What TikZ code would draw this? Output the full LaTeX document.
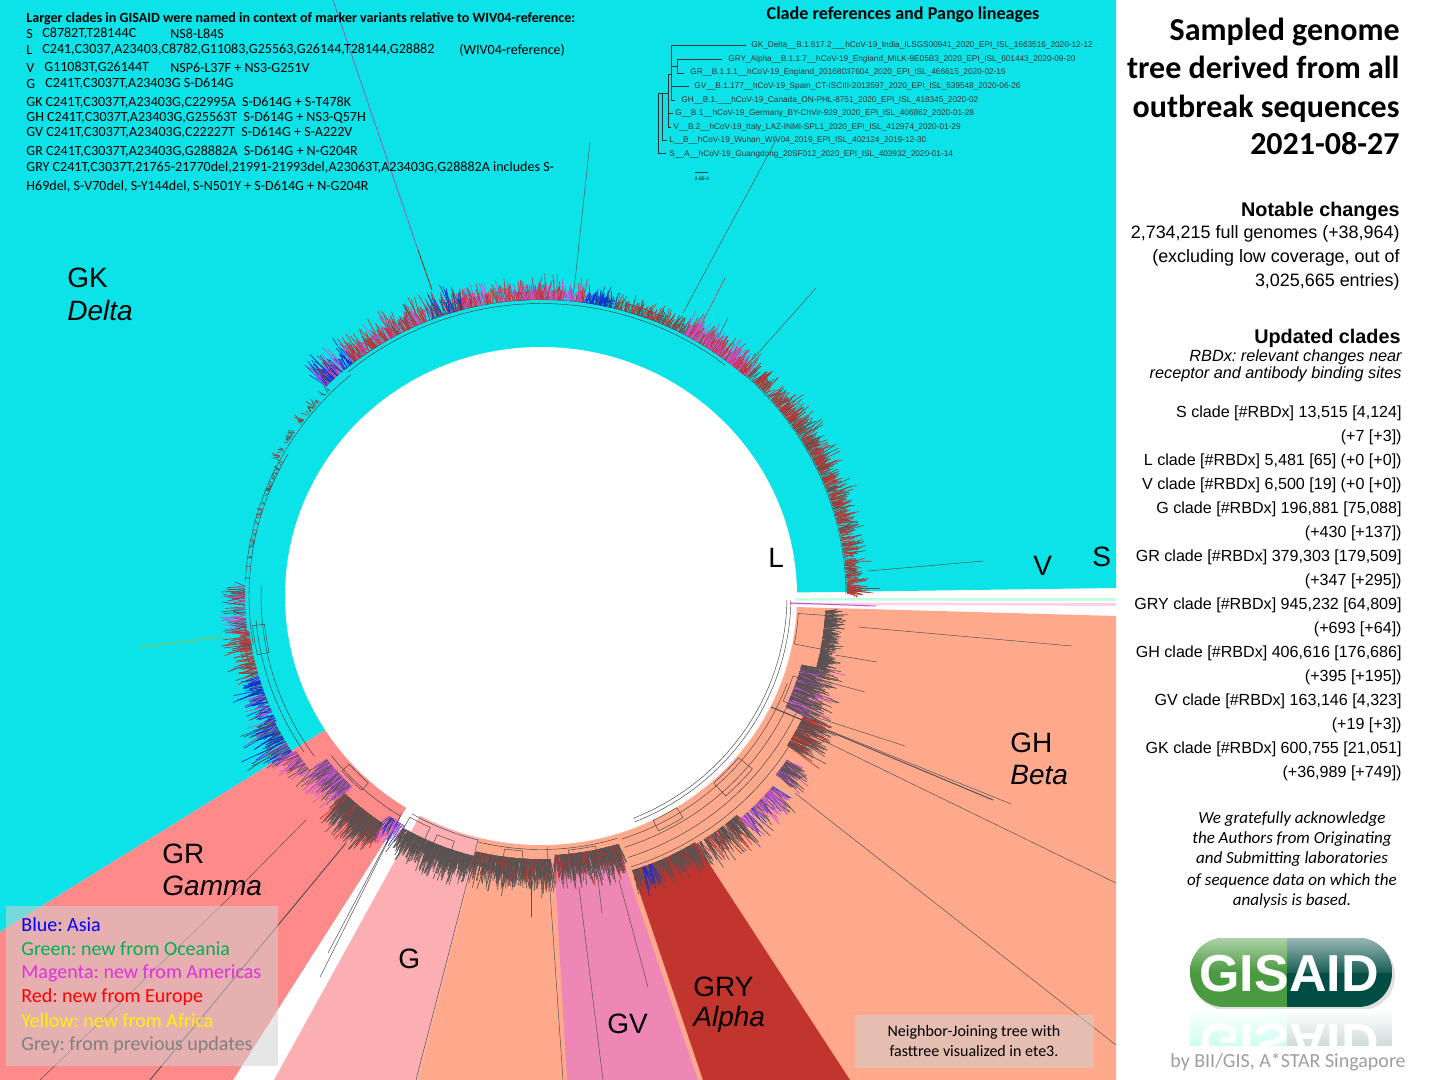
\documentclass[tikz,border=0pt]{standalone}
\usepackage{fontspec}
\setmainfont{Carlito}
\newfontfamily\arialfont{Liberation Sans}
\usetikzlibrary{positioning,calc}
\frenchspacing
\definecolor{cladecyan}{HTML}{0BE3E8}
\definecolor{cladegr}{HTML}{FF8A8A}
\definecolor{cladeg}{HTML}{FCAFB2}
\definecolor{cladegh}{HTML}{FFA98C}
\definecolor{cladegv}{HTML}{EE87B5}
\definecolor{cladegry}{HTML}{C2342E}
\definecolor{hairgrey}{HTML}{5A5252}
\definecolor{hairred}{HTML}{C8302C}
\definecolor{hairmag}{HTML}{C850D8}
\definecolor{hairblue}{HTML}{1030D0}
\definecolor{logogreen}{HTML}{4A9A3F}
\definecolor{logoteal}{HTML}{004D45}
\newcommand{\hairband}[8]{%
	\foreach \k in {1,...,#5}{
		\pgfmathsetmacro{\ang}{#1+(#2-#1)*rnd}
		\pgfmathsetmacro{\lenh}{#4*(0.3+0.7*rnd*rnd)}
		\pgfmathsetmacro{\tilt}{\ang+1.6*rnd-0.8}
		\pgfmathsetmacro{\pick}{rnd}
		\ifdim\pick pt<0.55pt\def\hc{#6}\else\ifdim\pick pt<0.85pt\def\hc{#7}\else\def\hc{#8}\fi\fi
		\draw[hair,draw=\hc] ({px(\ang,#3)},{py(\ang,#3)}) -- ({px(\tilt,#3+\lenh)},{py(\tilt,#3+\lenh)});
	}}
\newcommand{\treearc}[3]{\draw[branch] plot[domain=#1:#2,samples=36] ({px(\x,#3)},{py(\x,#3)});}
\newcommand{\treebox}[4]{\draw[branch] plot[domain=#1:#2,samples=10] ({px(\x,#3)},{py(\x,#3)}) -- plot[domain=#2:#1,samples=10] ({px(\x,#4)},{py(\x,#4)}) -- cycle;}
\begin{document}
\begin{tikzpicture}[
	x=0.5pt, y=-0.5pt,
	declare function={px(\a,\r)=541+\r*cos(\a);py(\a,\r)=596-0.975*\r*sin(\a);},
	hair/.style={line width=0.32pt},
	branch/.style={line width=0.22pt, draw=black!75},
	longbranch/.style={line width=0.25pt, draw=hairgrey},
	reftree/.style={line width=0.25pt, draw=black!80},
	glasspanel/.style={fill=black!18, fill opacity=0.54},
	notetext/.style={font=\fontsize{7.02}{8}\selectfont, anchor=west, inner sep=0pt},
	reftext/.style={font=\arialfont\fontsize{4.12}{5}\selectfont, anchor=west, inner sep=0pt, text=black!80},
	cladename/.style={font=\arialfont\fontsize{14}{16}\selectfont, anchor=west, inner sep=0pt},
	cladevar/.style={font=\arialfont\itshape\fontsize{14}{16}\selectfont, anchor=west, inner sep=0pt},
	legendtext/.style={font=\fontsize{10}{12}\selectfont, anchor=west, inner sep=0pt},
	paneltitle/.style={font=\bfseries\fontsize{16}{20}\selectfont, anchor=east, inner sep=0pt},
	panelhead/.style={font=\arialfont\bfseries\fontsize{9.9}{12}\selectfont, anchor=east, inner sep=0pt},
	panelbody/.style={font=\arialfont\fontsize{8.97}{11}\selectfont, anchor=east, inner sep=0pt},
	panelsmall/.style={font=\arialfont\itshape\fontsize{8.12}{10}\selectfont, anchor=east, inner sep=0pt},
	panelcount/.style={font=\arialfont\fontsize{8.05}{10}\selectfont, anchor=east, inner sep=0pt},
	thanks/.style={font=\itshape\fontsize{8.5}{10}\selectfont, inner sep=0pt},
	]
	\useasboundingbox (0,0) rectangle (1440,1080);
	\pgfmathsetseed{2021}
	% clade wedges
	\fill[cladecyan] (0,0) -- (1116,0) -- (1116,588) -- (541,596) -- (0,932) -- cycle;
	\fill[cladegr] (541,596) -- (0,932) -- (0,1080) -- (233,1080) -- cycle;
	\fill[cladeg] (541,596) -- (274,1080) -- (418,1080) -- cycle;
	\fill[cladegh] (541,596) -- (418,1080) -- (1116,1080) -- (1116,616) -- (760,606) -- cycle;
	\fill[cladegv] (554,857) -- (619,848) -- (698,1080) -- (567,1080) -- cycle;
	\fill[cladegry] (632,870) .. controls (655,864) and (677,855) .. (695,842) -- (850,1080) -- (703,1080) -- cycle;
	\fill[white] (541,596) ellipse [x radius=256, y radius=249];
	\fill[green!50!cyan!25!white] (795,598) -- (1116,598) -- (1116,601) -- (795,600.5) -- cycle;
	\fill[magenta!18] (790,602.5) -- (1116,603) -- (1116,606) -- (790,604.5) -- cycle;
	\draw[line width=0.5pt, draw=hairmag] (790,603) -- (876,606);
	% inner rings
	\foreach \rr in {246,250}{\treearc{-68}{-1}{\rr}}
	\foreach \rr in {262,271,282,292}{\treearc{288}{340}{\rr}}
	\treearc{240}{256}{258}
	\treearc{256}{287}{260}
	\foreach \rr in {300,304}{\treearc{52}{130}{\rr}}
	\treearc{130}{177}{296}
	\treearc{150}{190}{292}
	\treearc{0}{52}{305}
	\treearc{178}{216}{280}
	\treearc{185}{214}{286}
	\treearc{188}{206}{300}
	\treearc{218}{238}{266}
	\treebox{-4}{-11}{258}{285}
	\treebox{-18}{-24}{265}{280}
	\treebox{222}{228}{258}{268}
	\treebox{240}{245}{262}{280}
	\treebox{247}{251}{266}{278}
	\treebox{262}{266}{262}{272}
	\treebox{276}{282}{262}{270}
	\treebox{296}{302}{256}{268}
	\treebox{312}{320}{258}{276}
	\treebox{92}{95}{304}{312}
	\treebox{70}{74}{304}{312}
	\treebox{122}{126}{304}{314}
	\treebox{186}{192}{278}{290}
	% long lone branches
	\draw[line width=0.35pt, draw=hairmag!85!black] (333,0) -- (418,250);
	\draw[line width=0.4pt, draw=hairred!70!black] (418,250) -- (432,290);
	\draw[longbranch] (590,142) -- (574,290);
	\draw[longbranch] (776,140) -- (683,313);
	\draw[longbranch, draw=hairred] (725,278) -- (700,327);
	\draw[longbranch] (816,288) -- (752,360);
	\draw[longbranch] (728,318) -- (713,347);
	\draw[longbranch, draw=hairred] (857,485) -- (833,492);
	\draw[longbranch] (983,561) -- (868,571);
	\draw[longbranch] (880,588) -- (858,588);
	\draw[line width=0.4pt, draw=yellow!70!green!80!black] (139,647) -- (222,637);
	\draw[longbranch] (858,627) -- (1072,646);
	\draw[longbranch] (835,655) -- (877,662);
	\draw[longbranch] (820,680) -- (865,692);
	\draw[longbranch] (800,712) -- (905,746);
	\draw[line width=0.5pt, draw=hairgrey] (771,707) -- (993,800);
	\draw[longbranch] (771,707) -- (1011,804);
	\draw[longbranch] (822,740) -- (1116,883);
	\draw[longbranch] (795,793) -- (1116,1045);
	\draw[line width=0.5pt, draw=hairgrey] (346,843) -- (150,1080);
	\draw[longbranch] (306,820) -- (230,897) -- (40,1080);
	\draw[branch] (402,813) -- (320,977);
	\draw[branch] (400,817) -- (328,953);
	\draw[longbranch] (478,840) -- (416,1080);
	\draw[longbranch] (547,847) -- (563,1080);
	\draw[longbranch] (579,887) -- (603,1080);
	\draw[longbranch] (619,880) -- (648,987);
	\draw[longbranch] (598,880) -- (602,913);
	\draw[longbranch] (531,880) -- (531,917);
	% leaves, from the right round to the tree root
	\hairband{0.5}{48}{306}{30}{520}{hairred}{hairgrey}{hairred}
	\hairband{48}{62}{304}{30}{230}{hairred}{hairmag}{hairmag}
	\hairband{62}{76}{304}{22}{130}{hairred}{hairgrey}{hairgrey}
	\hairband{76}{82}{304}{24}{70}{hairblue}{hairblue}{hairgrey}
	\hairband{82}{105}{304}{28}{300}{hairred}{hairmag}{hairmag}
	\hairband{105}{112}{304}{34}{60}{hairblue}{hairred}{hairgrey}
	\hairband{112}{128}{304}{32}{190}{hairred}{hairmag}{hairgrey}
	\hairband{128}{135}{304}{36}{90}{hairblue}{hairmag}{hairred}
	\hairband{135}{152}{298}{12}{45}{hairgrey}{hairred}{hairgrey}
	\hairband{152}{177}{292}{8}{45}{hairgrey}{hairred}{hairgrey}
	\hairband{178}{187}{296}{32}{70}{hairgrey}{hairmag}{hairred}
	\hairband{187}{196}{294}{32}{80}{hairred}{hairgrey}{hairred}
	\hairband{196}{206}{294}{34}{90}{hairblue}{hairmag}{hairgrey}
	\hairband{206}{213}{296}{52}{80}{hairblue}{hairgrey}{hairmag}
	\hairband{213}{218}{292}{30}{40}{hairmag}{hairgrey}{hairred}
	\hairband{218}{226}{272}{42}{170}{hairgrey}{hairmag}{hairmag}
	\hairband{226}{236}{282}{44}{380}{hairgrey}{hairgrey}{hairred}
	\hairband{236}{240}{272}{40}{35}{hairmag}{hairblue}{hairgrey}
	\hairband{240}{256}{275}{38}{400}{hairgrey}{hairgrey}{hairgrey}
	\hairband{256}{272}{270}{42}{430}{hairgrey}{hairgrey}{hairred}
	\hairband{273}{287}{266}{40}{390}{hairgrey}{hairgrey}{hairred}
	\hairband{288}{301}{296}{32}{300}{hairgrey}{hairred}{hairgrey}
	\hairband{290}{292}{296}{36}{14}{hairblue}{hairblue}{hairblue}
	\hairband{301}{311}{298}{42}{120}{hairgrey}{hairred}{hairgrey}
	\hairband{311}{320}{303}{38}{90}{hairmag}{hairgrey}{hairblue}
	\hairband{322}{326}{298}{38}{80}{hairgrey}{hairmag}{hairgrey}
	\hairband{328}{335}{290}{46}{130}{hairgrey}{hairred}{hairgrey}
	\hairband{335}{345}{270}{50}{230}{hairgrey}{hairgrey}{hairmag}
	\hairband{345}{357}{285}{24}{280}{hairgrey}{hairgrey}{hairgrey}
	% notes
	\node[notetext, font=\bfseries\fontsize{7.02}{8}\selectfont] (notehead) at (26,19) {Larger clades in GISAID were named in context of marker variants relative to WIV04-reference:};
	\node[notetext] (nots) at (26,34) {S};
	\node[notetext] (notsa) at (42,34) {C8782T,T28144C};
	\node[notetext] (notsb) at (170,34) {NS8-L84S};
	\node[notetext] (notl) at (26,50) {L};
	\node[notetext] (notla) at (42,50) {C241,C3037,A23403,C8782,G11083,G25563,G26144,T28144,G28882};
	\node[notetext] (notlb) at (459,50) {(WIV04-reference)};
	\node[notetext] (notv) at (26,68) {V};
	\node[notetext] (notva) at (44,68) {G11083T,G26144T};
	\node[notetext] (notvb) at (170,68) {NSP6-L37F + NS3-G251V};
	\node[notetext] (notg) at (26,84) {G};
	\node[notetext] (notga) at (45,84) {C241T,C3037T,A23403G S-D614G};
	\node[notetext] (notgk) at (26,103) {GK C241T,C3037T,A23403G,C22995A\ \ S-D614G + S-T478K};
	\node[notetext] (notgh) at (26,118) {GH C241T,C3037T,A23403G,G25563T\ \ S-D614G + NS3-Q57H};
	\node[notetext] (notgv) at (26,133) {GV C241T,C3037T,A23403G,C22227T\ \ S-D614G + S-A222V};
	\node[notetext] (notgr) at (26,152) {GR C241T,C3037T,A23403G,G28882A\ \ S-D614G + N-G204R};
	\node[notetext] (notgry) at (26,168) {GRY C241T,C3037T,21765-21770del,21991-21993del,A23063T,A23403G,G28882A includes S-};
	\node[notetext] (notgryb) at (26,187) {H69del, S-V70del, S-Y144del, S-N501Y + S-D614G + N-G204R};
	% reference tree
	\node[font=\bfseries\fontsize{9.05}{10}\selectfont, inner sep=0pt] (refhead) at (903,15) {Clade references and Pango lineages};
	\draw[reftree] (666,153.5) -- (658.4,153.5) -- (658.4,93) -- (662.4,93);
	\draw[reftree, line width=0.4pt] (667,140.5) -- (662.4,140.5) -- (662.4,93) -- (668.5,93);
	\draw[reftree] (671,127) -- (668.5,127) -- (668.5,74) -- (671,74);
	\draw[reftree] (673,113) -- (668.5,113);
	\draw[reftree] (746,45.5) -- (671,45.5) -- (671,100) -- (675,100);
	\draw[reftree] (689,86) -- (671,86);
	\draw[reftree] (671,66) -- (677,66);
	\draw[reftree] (722,59) -- (677,59) -- (677,73) -- (684,73);
	\draw[reftree] (695,172) -- (708,172);
	\node[reftext] (refgk) at (751,45.7) {GK\_Delta\_\_B.1.617.2\_\_\_hCoV-19\_India\_ILSGS00941\_2020\_EPI\_ISL\_1663516\_2020-12-12};
	\node[reftext] (refgry) at (728,59) {GRY\_Alpha\_\_B.1.1.7\_\_hCoV-19\_England\_MILK-9E05B3\_2020\_EPI\_ISL\_601443\_2020-09-20};
	\node[reftext] (refgr) at (690,72.7) {GR\_\_B.1.1.1\_\_hCoV-19\_England\_20168037604\_2020\_EPI\_ISL\_466615\_2020-02-16};
	\node[reftext] (refgv) at (694,86) {GV\_\_B.1.177\_\_hCoV-19\_Spain\_CT-ISCIII-2013597\_2020\_EPI\_ISL\_539548\_2020-06-26};
	\node[reftext] (refgh) at (681,100) {GH\_\_B.1.\_\_\_hCoV-19\_Canada\_ON-PHL-8751\_2020\_EPI\_ISL\_418345\_2020-02};
	\node[reftext] (refg) at (675,113) {G\_\_B.1\_\_hCoV-19\_Germany\_BY-ChVir-929\_2020\_EPI\_ISL\_406862\_2020-01-28};
	\node[reftext] (refv) at (673,127) {V\_\_B.2\_\_hCoV-19\_Italy\_LAZ-INMI-SPL1\_2020\_EPI\_ISL\_412974\_2020-01-29};
	\node[reftext] (refl) at (669,140.5) {L\_\_B\_\_hCoV-19\_Wuhan\_WIV04\_2019\_EPI\_ISL\_402124\_2019-12-30};
	\node[reftext] (refs) at (669,154) {S\_\_A\_\_hCoV-19\_Guangdong\_20SF012\_2020\_EPI\_ISL\_403932\_2020-01-14};
	\node[font=\arialfont\fontsize{2.4}{3}\selectfont, inner sep=0pt] (refscale) at (702,179) {2.0E-4};
	% clade names
	\node[cladename] (gk) at (67,278) {GK};
	\node[cladevar] (delta) at (67,310) {Delta};
	\node[cladename] (gh) at (1010,743) {GH};
	\node[cladevar] (beta) at (1010,775) {Beta};
	\node[cladename] (gr) at (162,854) {GR};
	\node[cladevar] (gamma) at (162,886) {Gamma};
	\node[cladename] (g) at (398,959) {G};
	\node[cladename] (gv) at (607,1024) {GV};
	\node[cladename] (gry) at (693,987) {GRY};
	\node[cladevar] (alpha) at (693,1019) {Alpha};
	\node[cladename] (l) at (768,558) {L};
	\node[cladename] (v) at (1033,566) {V};
	\node[cladename] (s) at (1092,557) {S};
	% legend
	\fill[glasspanel] (6,906) rectangle (278,1066);
	\node[legendtext, text={rgb,255:red,0;green,0;blue,255}] (asia) at (21,925) {Blue: Asia};
	\node[legendtext, text={rgb,255:red,0;green,176;blue,80}] (oceania) at (21,949) {Green: new from Oceania};
	\node[legendtext, text={rgb,255:red,224;green,48;blue,224}] (americas) at (21,973) {Magenta: new from Americas};
	\node[legendtext, text=red] (europe) at (21,997) {Red: new from Europe};
	\node[legendtext, text=yellow] (africa) at (21,1021) {Yellow: new from Africa};
	\node[legendtext, text=black!50] (previous) at (21,1045) {Grey: from previous updates};
	\fill[glasspanel] (855,1015) rectangle (1094,1068);
	\node[font=\fontsize{8}{10}\selectfont, inner sep=0pt] (njone) at (974,1032) {Neighbor-Joining tree with};
	\node[font=\fontsize{8}{10}\selectfont, inner sep=0pt] (njtwo) at (974,1051) {fasttree visualized in ete3.};
	% right panel
	\node[paneltitle] (titlea) at (1400,32) {Sampled genome};
	\node[paneltitle] (titleb) at (1400,67) {tree derived from all};
	\node[paneltitle] (titlec) at (1400,109) {outbreak sequences};
	\node[paneltitle] (titled) at (1400,144) {2021-08-27};
	\node[panelhead] (notable) at (1400,211) {Notable changes};
	\node[panelbody] (changea) at (1400,234) {2,734,215 full genomes (+38,964)};
	\node[panelbody] (changeb) at (1400,258) {(excluding low coverage, out of};
	\node[panelbody] (changec) at (1400,282) {3,025,665 entries)};
	\node[panelhead] (updated) at (1401,338) {Updated clades};
	\node[panelsmall] (rbda) at (1402,357) {RBDx: relevant changes near};
	\node[panelsmall] (rbdb) at (1402,374) {receptor and antibody binding sites};
	\foreach \yy/\cnt [count=\i] in {413/{S clade [\#RBDx] 13,515 [4,124]},437/{(+7 [+3])},461/{L clade [\#RBDx] 5,481 [65] (+0 [+0])},485/{V clade [\#RBDx] 6,500 [19] (+0 [+0])},509/{G clade [\#RBDx] 196,881 [75,088]},533/{(+430 [+137])},557/{GR clade [\#RBDx] 379,303 [179,509]},581/{(+347 [+295])},605/{GRY clade [\#RBDx] 945,232 [64,809]},629/{(+693 [+64])},653/{GH clade [\#RBDx] 406,616 [176,686]},677/{(+395 [+195])},701/{GV clade [\#RBDx] 163,146 [4,323]},725/{(+19 [+3])},749/{GK clade [\#RBDx] 600,755 [21,051]},773/{(+36,989 [+749])}}
		\node[panelcount] (count\i) at (1402,\yy) {\cnt};
	\node[thanks] (thanksa) at (1292,819) {We gratefully acknowledge};
	\node[thanks] (thanksb) at (1292,839) {the Authors from Originating};
	\node[thanks] (thanksc) at (1292,859) {and Submitting laboratories};
	\node[thanks] (thanksd) at (1292,881) {of sequence data on which the};
	\node[thanks] (thankse) at (1292,901) {analysis is based.};
	% logo
	\fill[black!12, rounded corners=17pt] (1192,941) rectangle (1395,1010);
	\begin{scope}
		\clip[rounded corners=17pt] (1190,938) rectangle (1392,1007);
		\fill[logogreen] (1190,938) rectangle (1287,1007);
		\fill[logoteal] (1287,938) rectangle (1392,1007);
		\shade[top color=logogreen!45!white, bottom color=logogreen] (1190,938) rectangle (1287,972);
		\shade[top color=logoteal!40!white, bottom color=logoteal!90!white] (1287,938) rectangle (1392,972);
	\end{scope}
	\node[font=\arialfont\bfseries\fontsize{26}{30}\selectfont, text=white, inner sep=0pt] (logo) at (1289,974) {GISAID};
	\begin{scope}
		\clip (1190,1009) rectangle (1395,1045);
		\shade[top color=white, bottom color=green!30!cyan!20!white] (1190,1009) rectangle (1287,1045);
		\shade[top color=white, bottom color=cyan!25!black!18!white] (1287,1009) rectangle (1392,1045);
		\node[font=\arialfont\bfseries\fontsize{26}{30}\selectfont, text=white, inner sep=0pt, yscale=-1] (logoflip) at (1289,1042) {GISAID};
	\end{scope}
	\node[font=\fontsize{10}{12}\selectfont, text=black!38, inner sep=0pt] (byline) at (1288,1062) {by BII/GIS, A*STAR Singapore};
\end{tikzpicture}
\end{document}
